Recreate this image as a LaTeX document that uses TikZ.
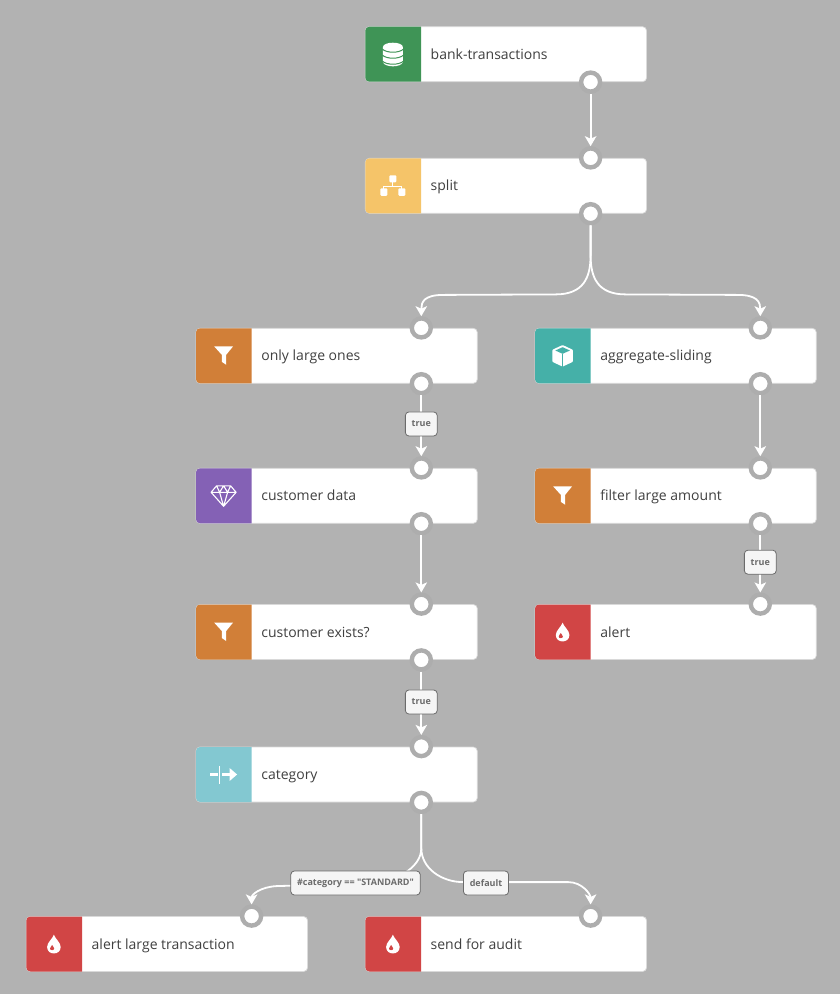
\documentclass[tikz,border=0pt]{standalone}
\usepackage{fontspec}
\setmainfont{Open Sans}
\newfontfamily\lblfont{Open Sans}
\usetikzlibrary{arrows.meta}
\definecolor{canvasbg}{HTML}{B2B2B2}
\definecolor{ringc}{HTML}{ADADAD}
\definecolor{cgreen}{HTML}{3F9456}
\definecolor{cyellow}{HTML}{F5C469}
\definecolor{corange}{HTML}{D17F38}
\definecolor{cpurple}{HTML}{8461B5}
\definecolor{cteal}{HTML}{45B0A8}
\definecolor{cblue}{HTML}{83C8D1}
\definecolor{cred}{HTML}{D14545}
\tikzset{
  card/.style={anchor=north west,minimum width=281.3pt,minimum height=55pt,fill=white,draw=black!15,line width=.7pt,rounded corners=4pt,inner sep=0pt,outer sep=0pt},
  cardtext/.style={anchor=base west,font=\fontsize{14}{16}\selectfont,text=black!75,inner sep=0pt},
  port/.style={circle,fill=white,draw=ringc,line width=4.4pt,minimum size=19pt,inner sep=0pt,outer sep=auto},
  wire/.style={draw=white,line width=1.8pt,-{Stealth[length=10pt,width=11.5pt,inset=2.5pt]}},
  edgelbl/.style={fill=black!4,draw=black!58,line width=.8pt,rounded corners=3.5pt,font=\fontsize{9}{10}\lblfont\bfseries,text=black!58,minimum height=24pt,inner xsep=6.3pt,inner ysep=0pt},
}
\newcommand\icondb{%
  \fill[white] (-10,-7) .. controls (-10,-13) and (10,-13) .. (10,-7) -- (10,8) .. controls (8,13.5) and (-8,13.5) .. (-10,8) -- cycle;
  \foreach \yy in {-4,2,8}{\draw[panel,line width=1pt] (-10.5,\yy-1) .. controls (-6,\yy+3) and (6,\yy+3) .. (10.5,\yy-1);}
}
\newcommand\iconorg{%
  \draw[white,line width=1.1pt] (0,-4) -- (0,1) (-9,5) -- (-9,1) -- (9,1) -- (9,5);
  \fill[white,rounded corners=1pt] (-3.5,-10.5) rectangle (3.5,-3.5);
  \fill[white,rounded corners=1pt] (-12.5,2.5) rectangle (-5.5,10);
  \fill[white,rounded corners=1pt] (5.5,2.5) rectangle (12.5,10);
}
\newcommand\iconfunnel{%
  \fill[white] (-9.5,-9.5) -- (9.5,-9.5) -- (2.6,-1) -- (2.6,9) -- (-1.8,6) -- (-1.8,-1) -- cycle;
}
\newcommand\icongem{%
  \draw[white,line width=1.1pt,line join=round] (-7,-10) -- (7,-10) -- (12.5,-3.5) -- (0,10.5) -- (-12.5,-3.5) -- cycle
    (-12.5,-3.5) -- (12.5,-3.5) (-7,-10) -- (-4,-3.5) -- (0,-10) -- (4,-3.5) -- (7,-10) (-4,-3.5) -- (0,10.5) -- (4,-3.5);
}
\newcommand\iconcube{%
  \fill[white,rounded corners=.8pt] (0,-10.8) -- (10.3,-6) -- (10.3,6) -- (0,10.8) -- (-10.3,6) -- (-10.3,-6) -- cycle;
  \fill[panel] (0,-8.6) -- (7.3,-5.3) -- (0,-2) -- (-7.3,-5.3) -- cycle;
  \draw[panel,line width=1pt] (0,-1.5) -- (0,10.8);
}
\newcommand\iconsplit{%
  \fill[white] (-14,-1.4) rectangle (-6,1.4);
  \fill[white] (-4.6,-9) rectangle (-3.4,9);
  \fill[white] (-1.5,-1.4) -- (6,-1.4) -- (6,-6.5) -- (13.5,0) -- (6,6.5) -- (6,1.4) -- (-1.5,1.4) -- cycle;
}
\newcommand\icondrop{%
  \fill[white] (0,-9.3) .. controls (1.5,-5) and (6.8,-1.5) .. (6.8,3) .. controls (6.8,11.6) and (-6.8,11.6) .. (-6.8,3) .. controls (-6.8,-1.5) and (-1.5,-5) .. (0,-9.3) -- cycle;
  \fill[panel] (-1.8,1) .. controls (-1.4,2.5) and (0.3,3) .. (0.3,4.6) .. controls (0.3,6.6) and (-3.9,6.6) .. (-3.9,4.6) .. controls (-3.9,3) and (-2.2,2.5) .. (-1.8,1) -- cycle;
}
% #1 name, #2 x, #3 y, #4 colour, #5 text, #6 icon macro
\newcommand\flownode[6]{%
  \colorlet{panel}{#4}%
  \node[card] (#1) at (#2,#3) {};
  \fill[panel] ([xshift=55.7pt]#1.north west) [rounded corners=4pt] -- (#1.north west) -- (#1.south west) [sharp corners] -- ([xshift=55.7pt]#1.south west) -- cycle;
  \begin{scope}[shift={([xshift=27.6pt]#1.west)}]#6\end{scope}
  \node[cardtext] (#1-t) at ([xshift=65.2pt,yshift=-5pt]#1.west) {#5};
}
\newcommand\inport[1]{\node[port] (#1-in) at ([xshift=225.3pt,yshift=.4pt]#1.north west) {};}
\newcommand\outport[1]{\node[port] (#1-out) at ([xshift=225.3pt,yshift=-.4pt]#1.south west) {};}
\begin{document}
\begin{tikzpicture}[x=1pt,y=-1pt]
\useasboundingbox[fill=canvasbg] (0,0) rectangle (840,994);
\flownode{bank}{365.3}{26.7}{cgreen}{bank-transactions}{\icondb}
\flownode{split}{365.3}{158.3}{cyellow}{split}{\iconorg}
\flownode{only}{196}{328.3}{corange}{only large ones}{\iconfunnel}
\flownode{cust}{196}{468.3}{cpurple}{customer data}{\icongem}
\flownode{exists}{196}{604.5}{corange}{customer exists?}{\iconfunnel}
\flownode{categ}{196}{747}{cblue}{category}{\iconsplit}
\flownode{alertl}{26.3}{916.5}{cred}{alert large transaction}{\icondrop}
\flownode{audit}{365.3}{916.5}{cred}{send for audit}{\icondrop}
\flownode{aggr}{535}{328.3}{cteal}{aggregate-sliding}{\iconcube}
\flownode{filt}{535}{468.3}{corange}{filter large amount}{\iconfunnel}
\flownode{alert}{535}{604.5}{cred}{alert}{\icondrop}
\outport{bank}
\inport{split}\outport{split}
\inport{only}\outport{only}
\inport{cust}\outport{cust}
\inport{exists}\outport{exists}
\inport{categ}\outport{categ}
\inport{alertl}
\inport{audit}
\inport{aggr}\outport{aggr}
\inport{filt}\outport{filt}
\inport{alert}

\draw[wire] (bank-out.south) -- (split-in.north);
\draw[wire] (split-out.south) -- ++(0,30) .. controls +(0,22) and +(28,0) .. ++(-35,39) -- ++(-112,0.5) .. controls +(-20,0) and +(0,-14) .. (only-in.north);
\draw[wire] (split-out.south) -- ++(0,30) .. controls +(0,22) and +(-28,0) .. ++(35,39) -- ++(112,0.5) .. controls +(20,0) and +(0,-14) .. (aggr-in.north);
\draw[wire] (only-out.south) -- node[edgelbl,pos=.47] (l1) {true} (cust-in.north);
\draw[wire] (cust-out.south) -- (exists-in.north);
\draw[wire] (exists-out.south) -- node[edgelbl,pos=.48] (l2) {true} (categ-in.north);
\draw[wire] (aggr-out.south) -- (filt-in.north);
\draw[wire] (filt-out.south) -- node[edgelbl,pos=.47] (l3) {true} (alert-in.north);
\draw[wire] (categ-out.south) -- ++(0,34) .. controls +(0,18) and +(24,-4) .. ++(-45,35) -- ++(-100,3) .. controls +(-16,1) and +(0,-10) .. (alertl-in.north);
\draw[wire] (categ-out.south) -- ++(0,34) .. controls +(0,20) and +(-22,0) .. ++(42,34) -- ++(105,0) .. controls +(14,0) and +(0,-10) .. (audit-in.north);
\node[edgelbl] (l4) at (355.5,883) {\#category == "STANDARD"};
\node[edgelbl] (l5) at (486,883) {default};
\end{tikzpicture}
\end{document}
